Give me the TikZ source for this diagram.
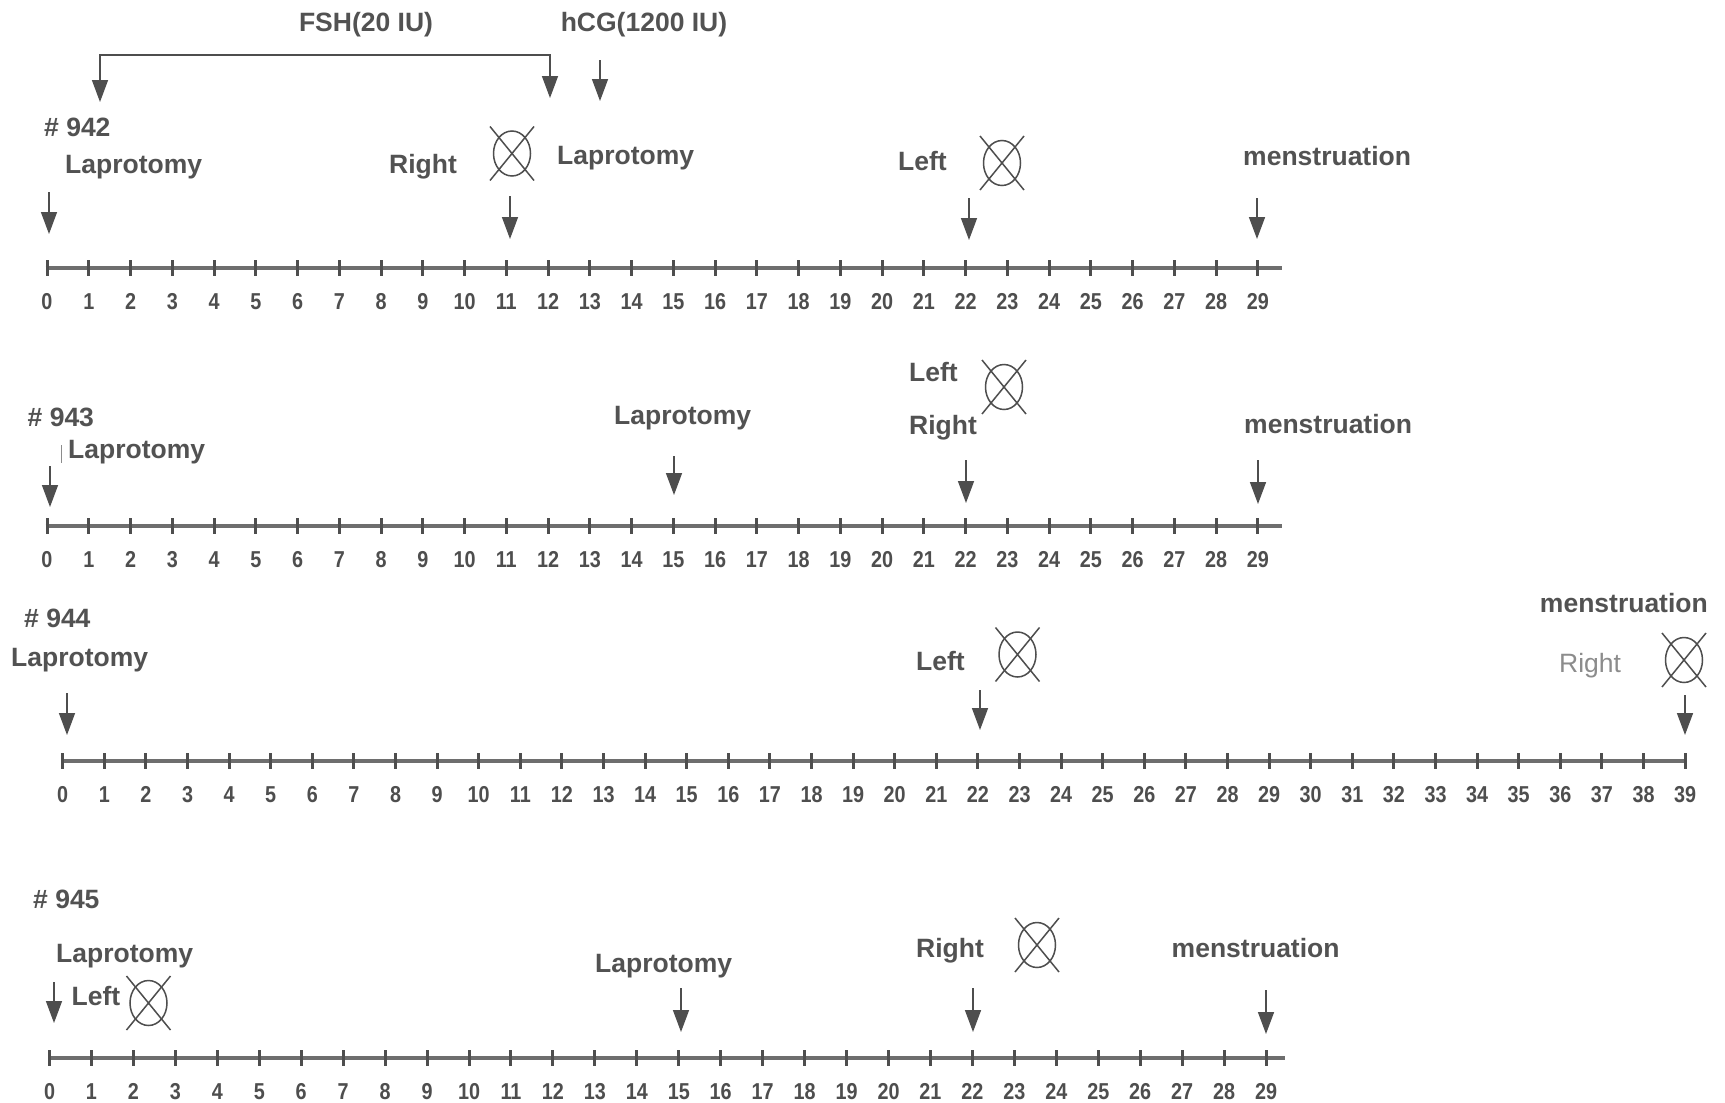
\documentclass[tikz,border=0pt]{standalone}
\usepackage{fontspec}
\usepackage{graphicx}
\setmainfont{Liberation Sans}
\usetikzlibrary{arrows.meta}
\definecolor{txt}{HTML}{525252}
\definecolor{axc}{HTML}{6E6E6E}
\definecolor{tk}{HTML}{4E4E4E}
\definecolor{lightt}{HTML}{8C8C8C}
\tikzset{
  lbl/.style={anchor=base west, inner sep=0pt, text=txt, font=\fontsize{26.5}{30}\selectfont\bfseries},
  num/.style={anchor=base, inner sep=0pt, text=tk, font=\fontsize{23}{26}\selectfont\bfseries},
  evarr/.style={draw=tk, line width=1.5pt, -{Triangle[length=22pt,width=16pt]}},
  axisline/.style={draw=axc, line width=4.5pt},
  tickmark/.style={draw=tk, line width=3pt},
  xc/.pic={
    \draw[line width=1.5pt, draw=tk] (0,0) ellipse [x radius=18.5pt, y radius=22.5pt];
    \draw[line width=1.5pt, draw=tk] (-22,-27) -- (22,27) (-22,27) -- (22,-27);
  }
}
% #1 name, #2 y, #3 x0, #4 spacing, #5 last day, #6 line end x
\newcommand\timeaxis[6]{%
  \draw[axisline] (#3-1.5,#2) -- (#6,#2);
  \foreach \d in {0,...,#5} {
    \draw[tickmark] (#3+\d*#4,#2-8) -- (#3+\d*#4,#2+8);
    \node[num] (#1n\d) at (#3+\d*#4,#2+41) {\scalebox{0.86}[1]{\d}};
  }
}
% #1 name, #2 x, #3 y start, #4 y tip
\newcommand\evt[4]{%
  \coordinate (#1s) at (#2,#3);
  \coordinate (#1e) at (#2,#4);
  \draw[evarr] (#1s) -- (#1e);
}
\begin{document}
\begin{tikzpicture}[x=1pt,y=-1pt]
\useasboundingbox (0,0) rectangle (1725,1103);
\fill[white] (0,0) rectangle (1725,1103);

% ---------------- #942 ----------------
\node[lbl, anchor=base] (fsh) at (366,31) {FSH(20 IU)};
\node[lbl, anchor=base] (hcg) at (644,31) {hCG(1200 IU)};
\coordinate (fshL) at (100,55);
\coordinate (fshR) at (550,55);
\draw[draw=tk, line width=2.5pt] ([xshift=-0.8pt]fshL) -- ([xshift=0.8pt]fshR);
\coordinate (fshLt) at (100,102);
\coordinate (fshRt) at (550,98);
\draw[evarr] (fshL) -- (fshLt);
\draw[evarr] (fshR) -- (fshRt);
\evt{hcga}{600}{60}{101}

\node[lbl] (id942) at (44,136) {\# 942};
\node[lbl] (lap1a) at (65,173) {Laprotomy};
\evt{a1a}{49}{192}{234}
\node[lbl] (r1right) at (389,173) {Right};
\pic (x1a) at (512,153.5) {xc};
\evt{a1b}{510}{196}{239}
\node[lbl] (lap1b) at (557,164) {Laprotomy};
\node[lbl] (l1left) at (898,170) {Left};
\pic (x1b) at (1002,163) {xc};
\evt{a1c}{969}{198}{240}
\node[lbl] (m1) at (1243,165) {menstruation};
\evt{a1d}{1257}{198}{239}
\timeaxis{r1}{268}{47}{41.75}{29}{1282}

% ---------------- #943 ----------------
\node[lbl] (id943) at (27.5,426) {\# 943};
\node[lbl] (lap2a) at (68,458) {Laprotomy};
\coordinate (bar2s) at (61,445);
\coordinate (bar2e) at (61,463);
\draw[draw=lightt, line width=1pt] (bar2s) -- (bar2e);
\evt{a2a}{50}{466}{507}
\node[lbl] (lap2b) at (614,424) {Laprotomy};
\evt{a2b}{674}{456}{495}
\node[lbl] (l2left) at (909,381) {Left};
\node[lbl] (r2right) at (909,434) {Right};
\pic (x2a) at (1004,387) {xc};
\evt{a2c}{966}{460}{503}
\node[lbl] (m2) at (1244,433) {menstruation};
\evt{a2d}{1258}{460}{504}
\timeaxis{r2}{526}{47}{41.75}{29}{1282}

% ---------------- #944 ----------------
\node[lbl] (id944) at (24,627) {\# 944};
\node[lbl] (lap3a) at (11,666) {Laprotomy};
\evt{a3a}{67}{693}{735}
\node[lbl] (l3left) at (916,670) {Left};
\pic (x3a) at (1017.5,654.5) {xc};
\evt{a3b}{980}{690}{730}
\node[lbl, anchor=base east] (m3) at (1708,612) {menstruation};
\node[lbl, font=\fontsize{26.5}{30}\selectfont, text=lightt] (r3right) at (1559,672) {Right};
\pic (x3b) at (1684,660) {xc};
\evt{a3c}{1685}{695}{735}
\timeaxis{r3}{761}{62.7}{41.6}{39}{1685}

% ---------------- #945 ----------------
\node[lbl] (id945) at (33,908) {\# 945};
\node[lbl] (lap4a) at (56,962) {Laprotomy};
\evt{a4a}{54}{982}{1023}
\node[lbl] (l4left) at (71.5,1005) {Left};
\pic (x4a) at (148.5,1003) {xc};
\node[lbl] (lap4b) at (595,972) {Laprotomy};
\evt{a4b}{681}{988}{1032}
\node[lbl] (r4right) at (916,957) {Right};
\pic (x4b) at (1037,945) {xc};
\evt{a4c}{973}{988}{1032}
\node[lbl] (m4) at (1171.5,957) {menstruation};
\evt{a4d}{1266}{990}{1034}
\timeaxis{r4}{1058}{49.5}{41.95}{29}{1285}
\end{tikzpicture}
\end{document}
